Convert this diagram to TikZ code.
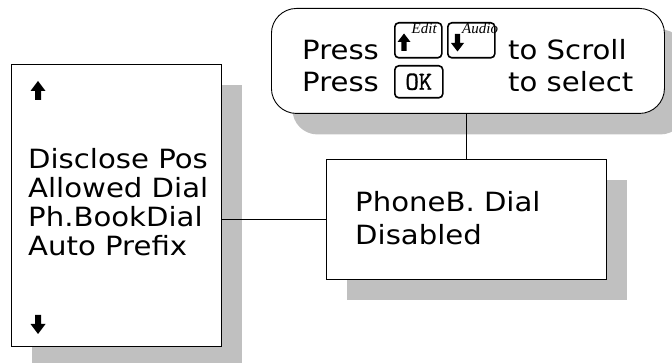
\documentclass[tikz,border=0pt]{standalone}
\usepackage{fontspec}
\setmainfont[FakeStretch=1.1]{DejaVu Sans}
\newfontfamily\keyfont{Liberation Serif}
\newfontfamily\okfont[FakeBold=1.2]{Latin Modern Mono}
\usetikzlibrary{shadows,positioning}
\definecolor{shadowGray}{HTML}{C0C0C0}

\begin{document}
\begin{tikzpicture}[x=1pt, y=-1pt,
    menubox/.style={draw, line width=0.9pt, fill=white, inner sep=0pt, anchor=north west,
        drop shadow={shadow xshift=21pt, shadow yshift=-21pt, fill=shadowGray, opacity=1}},
    menutext/.style={inner sep=0pt, anchor=base west, font=\fontsize{26.5}{29}\selectfont},
    keycap/.style={draw, line width=1.6pt, rounded corners=4pt, inner sep=0pt, anchor=north west},
    keylabel/.style={inner sep=0pt, anchor=base west, font=\keyfont\itshape\fontsize{15}{15}\selectfont},
    link/.style={line width=1.2pt}]
    \useasboundingbox (0,0) rectangle (672,363);
    % boxes with shadows
    \node[menubox, minimum width=210pt, minimum height=282pt] (listbox) at (11,64) {};
    \node[menubox, minimum width=280pt, minimum height=120pt] (statebox) at (326,159) {};
    \node[menubox, rounded corners=25pt, minimum width=393pt, minimum height=105pt] (hintbox) at (271,8) {};
    % menu list
    \foreach \txt [count=\i] in {Disclose Pos, Allowed Dial, Ph.BookDial, Auto Prefix}
        \node[menutext] (item\i) at (28,{169+28.7*(\i-1)}) {\txt};
    \foreach \ay/\s in {81/1, 334/-1}
        \fill (38,\ay) -- ++(7.5,{10*\s}) -- ++(-4.5,0) -- ++(0,{9*\s}) -- ++(-6,0)
              -- ++(0,{-9*\s}) -- ++(-4.5,0) -- cycle;
    % state
    \node[menutext] (state1) at (355,212) {PhoneB. Dial};
    \node[menutext] (state2) at (355,245) {Disabled};
    % hint
    \node[menutext] (press1) at (302,60) {Press};
    \node[menutext] (scroll) at (508,60) {to Scroll};
    \node[menutext] (press2) at (302,92) {Press};
    \node[menutext] (select) at (508,92) {to select};
    \node[keycap, minimum width=47pt, minimum height=35pt] (editkey) at (394,22) {};
    \node[keycap, minimum width=47pt, minimum height=35pt] (audiokey) at (447,22) {};
    \node[keycap, minimum width=48pt, minimum height=32pt] (okkey) at (394,65)
        {\okfont\fontsize{26}{26}\selectfont OK};
    \node[keylabel] (editlabel) at (411.5,34) {Edit};
    \node[keylabel] (audiolabel) at (462,34) {Audio};
    \foreach \ax/\ay/\s in {404/33.5/1, 457.5/51.5/-1}
        \fill (\ax,\ay) -- ++(6.5,{8.5*\s}) -- ++(-3.8,0) -- ++(0,{9*\s}) -- ++(-5.4,0)
              -- ++(0,{-9*\s}) -- ++(-3.8,0) -- cycle;
    % connectors
    \draw[link] (statebox.west) -- (statebox.west -| listbox.east);
    \draw[link] (statebox.north) -- (statebox.north |- hintbox.south);
\end{tikzpicture}
\end{document}
